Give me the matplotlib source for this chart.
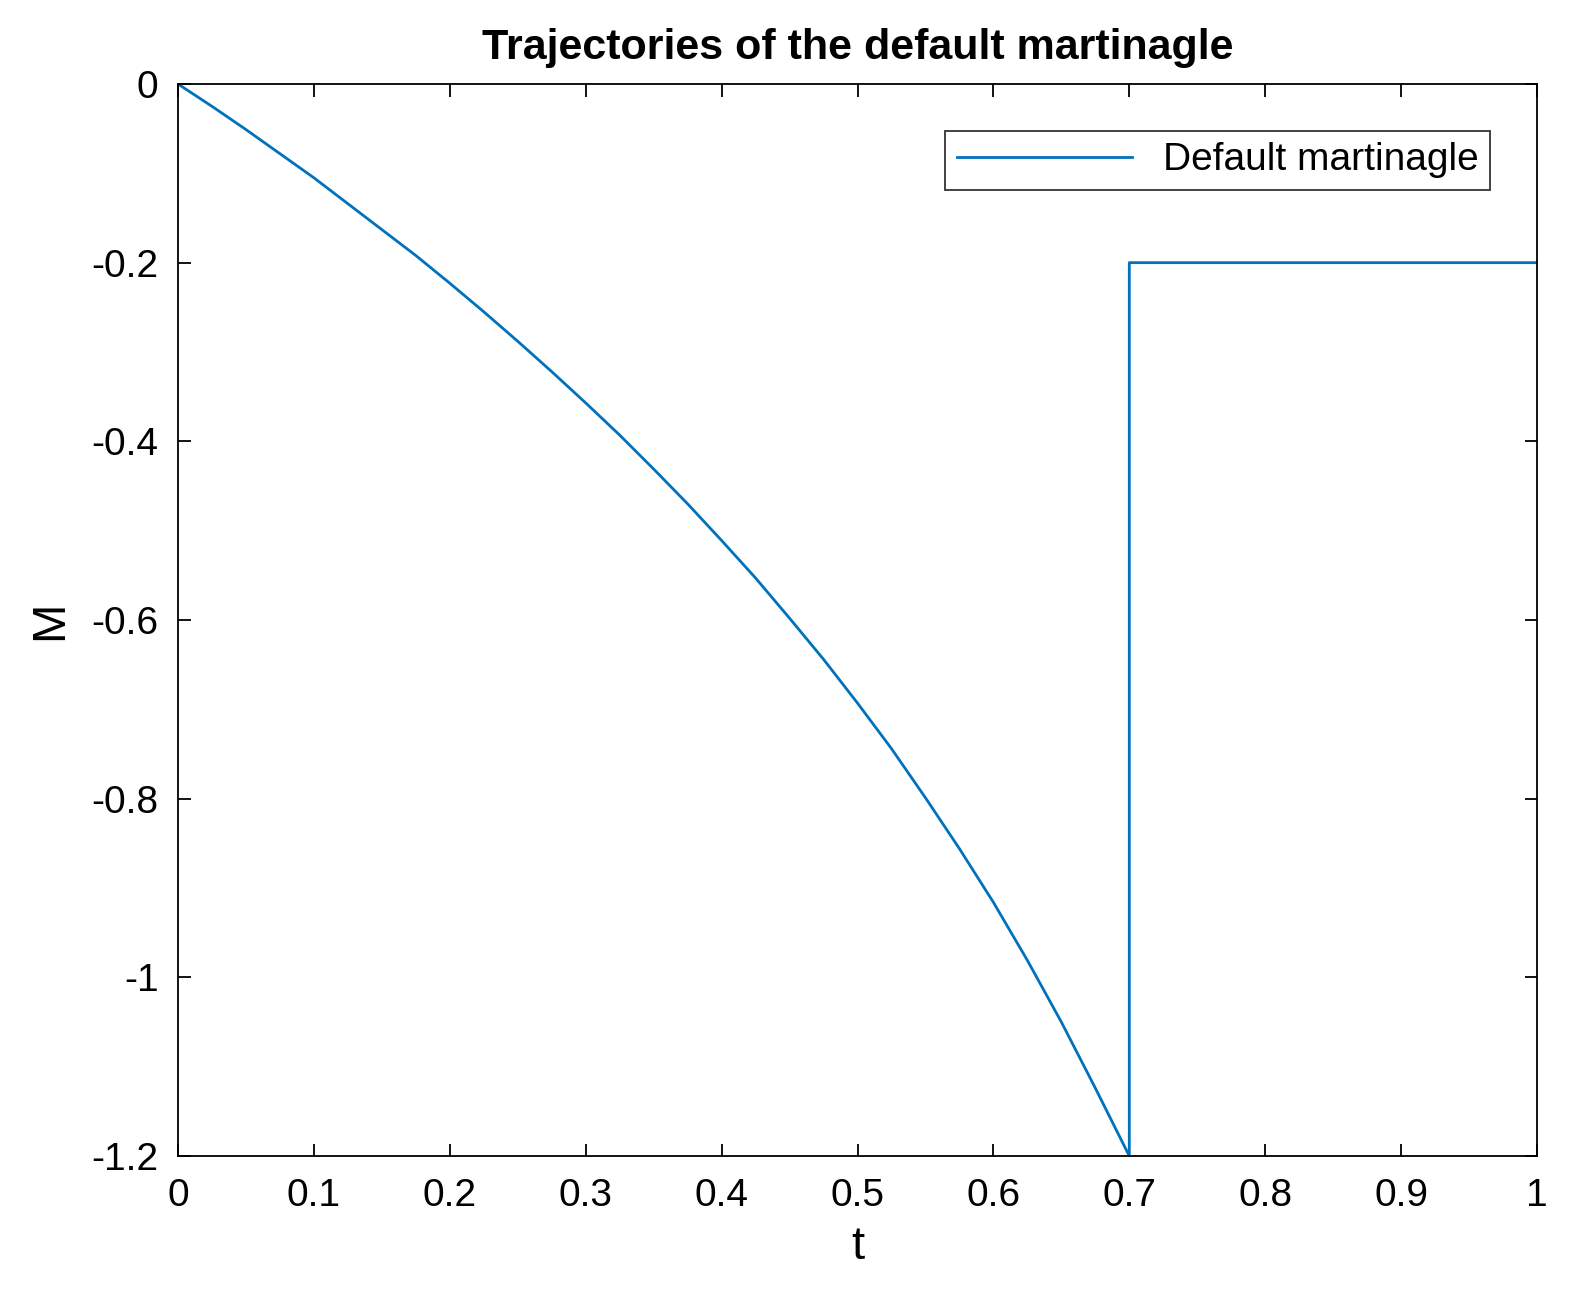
import matplotlib
matplotlib.use('Agg')
import matplotlib.pyplot as plt

# values
t_vals = [0, 0.025, 0.05, 0.075, 0.1, 0.125, 0.15, 0.175, 0.2, 0.225, 0.25, 0.275, 0.3, 0.325,
          0.35, 0.375, 0.4, 0.425, 0.45, 0.475, 0.5, 0.525, 0.55, 0.575, 0.6, 0.625, 0.65,
          0.675, 0.7, 0.7, 1.0]
m_vals = [0, -0.025, -0.051, -0.078, -0.105, -0.134, -0.163, -0.192, -0.223, -0.255, -0.288,
          -0.322, -0.357, -0.393, -0.431, -0.470, -0.511, -0.553, -0.598, -0.644, -0.693,
          -0.744, -0.799, -0.856, -0.916, -0.981, -1.050, -1.124, -1.20, -0.2, -0.2]
x_ticks = [0, 0.1, 0.2, 0.3, 0.4, 0.5, 0.6, 0.7, 0.8, 0.9, 1]
x_labels = ['0', '0.1', '0.2', '0.3', '0.4', '0.5', '0.6', '0.7', '0.8', '0.9', '1']
y_ticks = [0, -0.2, -0.4, -0.6, -0.8, -1, -1.2]
y_labels = ['0', '-0.2', '-0.4', '-0.6', '-0.8', '-1', '-1.2']

plt.rcParams['font.family'] = ['Liberation Sans', 'DejaVu Sans']
W, H = 1581, 1304
fig = plt.figure(figsize=(W / 100, H / 100), dpi=100)
ax = fig.add_axes([178 / W, 1 - 1156 / H, (1537 - 178) / W, (1156 - 84) / H])

ax.plot(t_vals, m_vals, color='#0072BD', linewidth=2, label='Default martinagle')
ax.set_xlim(0, 1)
ax.set_ylim(-1.2, 0)
ax.set_xticks(x_ticks)
ax.set_xticklabels(x_labels)
ax.set_yticks(y_ticks)
ax.set_yticklabels(y_labels)
ax.tick_params(direction='in', length=9, width=1.3, labelsize=28, top=True, right=True)
ax.tick_params(axis='x', pad=16)
ax.tick_params(axis='y', pad=14)
for s in ax.spines.values():
    s.set_linewidth(1.3)

ax.set_xlabel('t', fontsize=34, labelpad=8)
ax.set_ylabel('M', fontsize=34, labelpad=14)
ax.set_title('Trajectories of the default martinagle', fontsize=31, fontweight='bold', pad=18)
leg = ax.legend(loc='upper right', fontsize=28, fancybox=False, edgecolor='black',
                handlelength=4.5, borderaxespad=1.2, borderpad=0.3)
leg.get_frame().set_linewidth(1.3)

fig.savefig('out.png')
